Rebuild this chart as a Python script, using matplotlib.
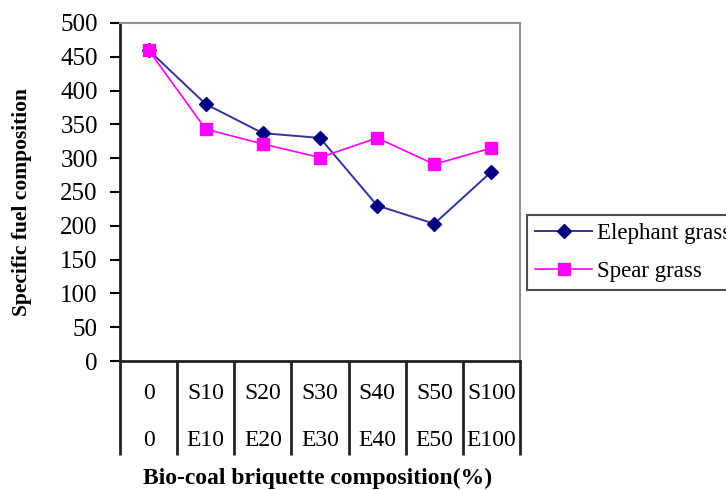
import matplotlib
matplotlib.use("Agg")
import matplotlib.pyplot as plt
from matplotlib import transforms

plt.rcParams['font.family'] = ['Liberation Serif', 'DejaVu Serif']

# values
spear_labels = ['0', 'S10', 'S20', 'S30', 'S40', 'S50', 'S100']
elephant_labels = ['0', 'E10', 'E20', 'E30', 'E40', 'E50', 'E100']
elephant = [460, 380, 337, 330, 230, 203, 280]
spear = [460, 343, 321, 301, 330, 291, 315]
yticks = [0, 50, 100, 150, 200, 250, 300, 350, 400, 450, 500]

W, H = 726, 490
fig = plt.figure(figsize=(W / 100, H / 100), dpi=100)
ax = fig.add_axes([120 / W, (H - 361) / H, 400 / W, 338 / H])

x = list(range(len(elephant)))
ax.plot(x, elephant, color='#333399', lw=1.4, marker='D', ms=7,
        mfc='#000080', mec='#000080', label='Elephant grass')
ax.plot(x, spear, color='#ff00ff', lw=1.2, marker='s', ms=8,
        mfc='#ff00ff', mec='#ff00ff', label='Spear grass')

ax.set_xlim(-0.5, len(x) - 0.5)
ax.set_ylim(0, 500)
ax.set_yticks(yticks)
ax.tick_params(axis='y', direction='out', length=7, width=1.5, labelsize=18, pad=9)
ax.set_xticks([])

for side in ['top', 'right']:
    ax.spines[side].set_color('#909090')
    ax.spines[side].set_linewidth(1.5)
for side in ['left', 'bottom']:
    ax.spines[side].set_color('#222222')
    ax.spines[side].set_linewidth(2)

# two-row category labels with divider lines
trans = transforms.blended_transform_factory(ax.transData, ax.transAxes)
for i in range(len(x) + 1):
    ax.plot([i - 0.5, i - 0.5], [0, -0.278], transform=trans, color='#222222',
            lw=2, clip_on=False, solid_capstyle='butt')
for i in x:
    ax.text(i, -0.095, spear_labels[i], transform=trans, ha='center', va='center', fontsize=17)
    ax.text(i, -0.234, elephant_labels[i], transform=trans, ha='center', va='center', fontsize=17)

fig.text(318 / W, 1 - 478 / H, 'Bio-coal briquette composition(%)', ha='center', va='center',
         fontsize=17, fontweight='bold')
fig.text(22 / W, 1 - 202 / H, 'Specific fuel composition', ha='center', va='center',
         rotation=90, fontsize=15.5, fontweight='bold')

leg = fig.legend(loc='upper left', bbox_to_anchor=(527 / W, 1 - 215 / H), fontsize=16.5,
                 frameon=True, fancybox=False, edgecolor='#222222', handlelength=2.5,
                 borderpad=0.35, labelspacing=0.75, handletextpad=0.2, borderaxespad=0)
leg.get_frame().set_linewidth(1.5)

fig.savefig('out.png', dpi=100)
